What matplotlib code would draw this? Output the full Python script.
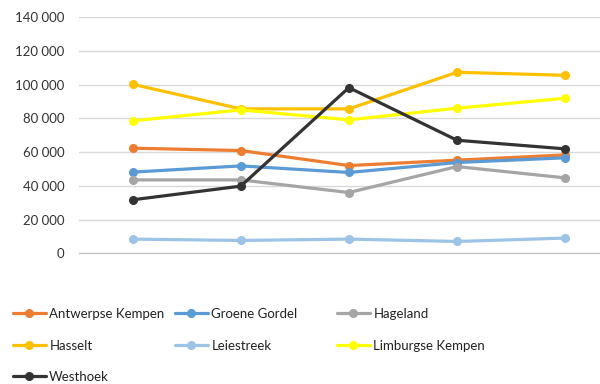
import matplotlib.pyplot as plt
from matplotlib.ticker import FuncFormatter

plt.rcParams['font.family'] = ['Lato', 'DejaVu Sans']

regions = ['Antwerpse Kempen', 'Groene Gordel', 'Hageland', 'Hasselt',
           'Leiestreek', 'Limburgse Kempen', 'Westhoek']
periods = [1, 2, 3, 4, 5]

antwerpse_kempen = [62400, 61000, 52100, 55300, 58400]
groene_gordel = [48200, 51900, 48000, 53900, 56700]
hageland = [43600, 43600, 36100, 51500, 44800]
hasselt = [100300, 85700, 85700, 107400, 105600]
leiestreek = [8500, 7700, 8500, 7100, 9100]
limburgse_kempen = [78600, 85100, 79200, 86100, 92000]
westhoek = [31800, 39900, 98300, 67100, 62000]

series = [antwerpse_kempen, groene_gordel, hageland, hasselt,
          leiestreek, limburgse_kempen, westhoek]
colors = ['#ED7D31', '#5B9BD5', '#A5A5A5', '#FFC000',
          '#9DC3E6', '#FFFF00', '#333333']

fig = plt.figure(figsize=(6, 3.84), dpi=100)
ax = fig.add_axes([0.131, 0.340, 0.901, 0.615])

handles = []
for vals, c, name in zip(series, colors, regions):
    h, = ax.plot(periods, vals, color=c, lw=2.3, marker='o', ms=5.5,
                 label=name, solid_capstyle='round')
    handles.append(h)

ax.set_xlim(0.5, 5.5)
ax.set_ylim(0, 140000)
ax.set_yticks(range(0, 140001, 20000))
ax.yaxis.set_major_formatter(FuncFormatter(lambda v, p: f'{int(v):,}'.replace(',', ' ')))
ax.set_xticks([])
ax.grid(axis='y', color='#D9D9D9', lw=1)
ax.set_axisbelow(True)
for s in ['top', 'right', 'left']:
    ax.spines[s].set_visible(False)
ax.spines['bottom'].set_color('#BFBFBF')
ax.tick_params(axis='y', length=0, pad=10, labelsize=9.5, labelcolor='#333333')

# legend, one entry at a time (Excel-like grid below the plot)
col_x = [13, 175, 337]
row_y = [314, 346, 377]
for i, h in enumerate(handles):
    r, c = divmod(i, 3)
    fig.legend([h], [regions[i]], loc='center left',
               bbox_to_anchor=(col_x[c] / 600, 1 - row_y[r] / 384),
               frameon=False, borderpad=0, borderaxespad=0,
               handlelength=2.5, handletextpad=0.25, fontsize=9.5,
               labelcolor='#222222')

fig.savefig('out.png', dpi=100)
